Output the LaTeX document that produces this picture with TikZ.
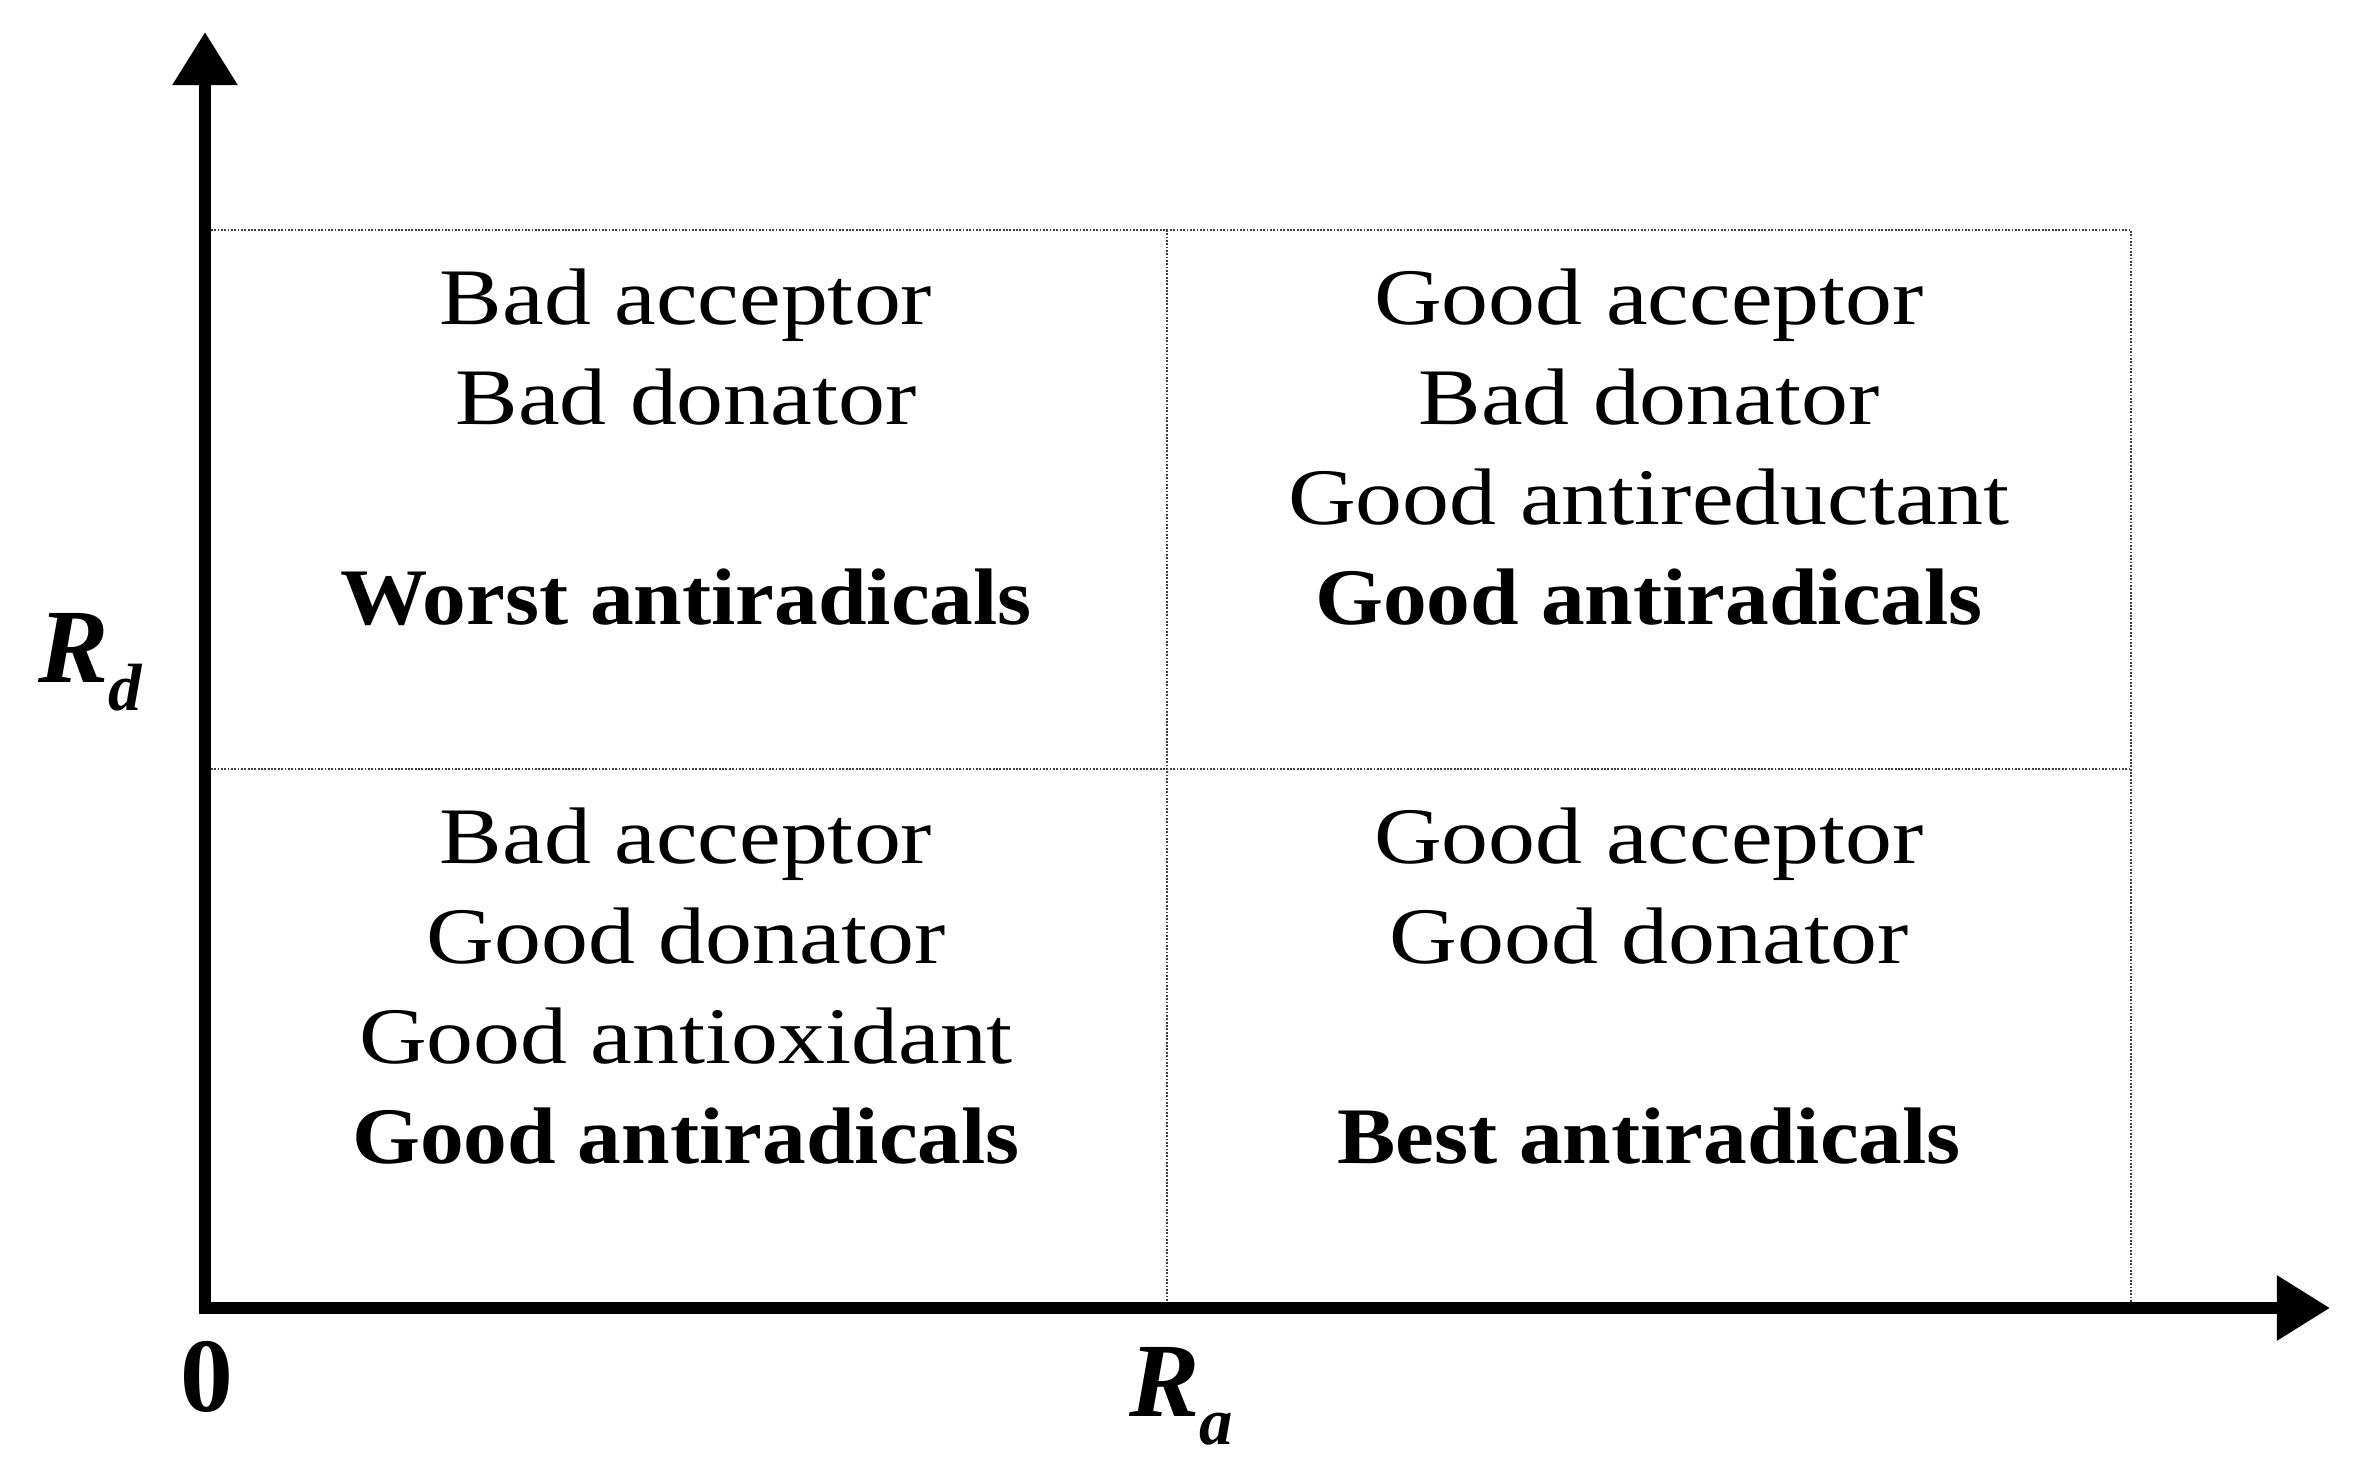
\documentclass[tikz,border=0pt]{standalone}
\usepackage{fontspec}
\setmainfont[FakeStretch=1.17]{Liberation Serif}
\newfontfamily\boldtxtfont[FakeStretch=1.09]{Liberation Serif}
\newfontfamily\axfont{Liberation Serif}
\usetikzlibrary{arrows.meta}
\begin{document}
\begin{tikzpicture}[x=0.01cm,y=-0.01cm,
  axis/.style={line width=0.12cm, line join=miter,
    {Triangle[length=0.53cm,width=0.62cm]}-{Triangle[length=0.53cm,width=0.62cm]}},
  gridline/.style={line width=0.6pt, black!75, dash pattern=on 0.5pt off 0.45pt},
  txt/.style={anchor=base, inner sep=0pt, font=\fontsize{22.8}{27}\selectfont},
  btxt/.style={anchor=base, inner sep=0pt, font=\boldtxtfont\fontsize{22.8}{27}\selectfont\bfseries},
  axlabel/.style={anchor=base, inner sep=0pt, font=\axfont\fontsize{30}{32}\selectfont\bfseries}
]
\useasboundingbox (0,0) rectangle (2360,1480);
% grid coordinates
\coordinate (tl) at (211,230);
\coordinate (tm) at (1167,230);
\coordinate (tr) at (2131,230);
\coordinate (ml) at (211,769);
\coordinate (mr) at (2131,769);
\coordinate (bm) at (1167,1302);
\coordinate (br) at (2131,1302);
\draw[gridline] (tl) -- (tr) -- (br);
\draw[gridline] (ml) -- (mr);
\draw[gridline] (tm) -- (bm);
% axes
\coordinate (ytip) at (205,32);
\coordinate (O) at (205,1308);
\coordinate (xtip) at (2330,1308);
\draw[axis] (ytip) -- (O) -- (xtip);
% axis labels
\node[axlabel] (zero) at (207,1412) {0};
\node[axlabel] (Ra) at (1181,1417) {\itshape R\raisebox{-0.26em}{\fontsize{19}{20}\selectfont a}};
\node[axlabel] (Rd) at (90,683) {\itshape R\raisebox{-0.26em}{\fontsize{19}{20}\selectfont d}};
% top-left cell
\node[txt] (tl1) at (686,325) {Bad acceptor};
\node[txt] (tl2) at (686,425) {Bad donator};
\node[btxt] (tl4) at (686,625) {Worst antiradicals};
% top-right cell
\node[txt] (tr1) at (1649,325) {Good acceptor};
\node[txt] (tr2) at (1649,425) {Bad donator};
\node[txt] (tr3) at (1649,525) {Good antireductant};
\node[btxt] (tr4) at (1649,625) {Good antiradicals};
% bottom-left cell
\node[txt] (bl1) at (686,864) {Bad acceptor};
\node[txt] (bl2) at (686,964) {Good donator};
\node[txt] (bl3) at (686,1064) {Good antioxidant};
\node[btxt] (bl4) at (686,1164) {Good antiradicals};
% bottom-right cell
\node[txt] (br1) at (1649,864) {Good acceptor};
\node[txt] (br2) at (1649,964) {Good donator};
\node[btxt] (br4) at (1649,1164) {Best antiradicals};
\end{tikzpicture}
\end{document}
